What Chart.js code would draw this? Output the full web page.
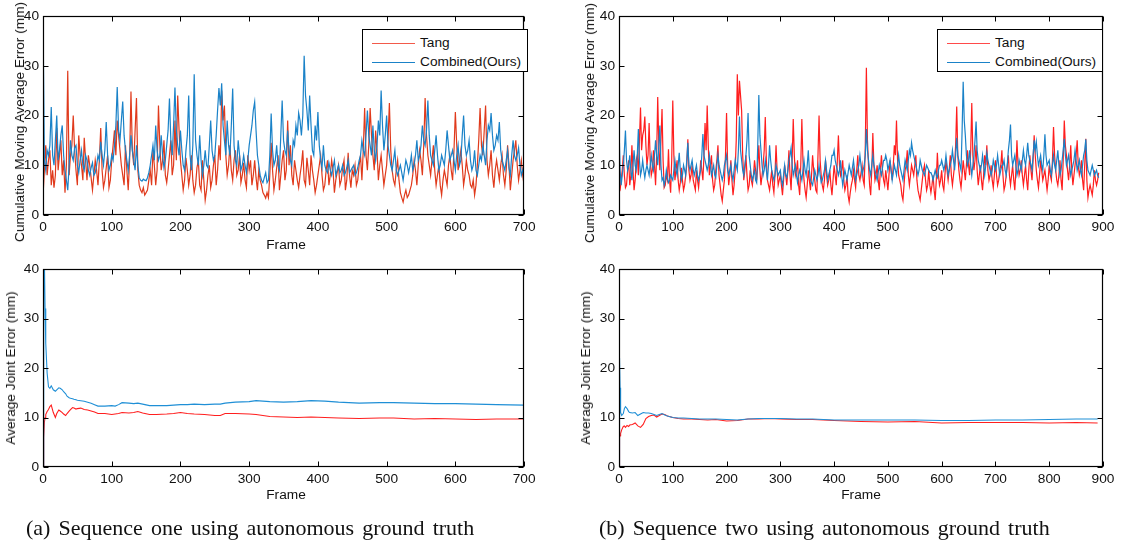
<!DOCTYPE html>
<html><head><meta charset="utf-8">
<script src="https://cdn.jsdelivr.net/npm/chart.js@4.4.1/dist/chart.umd.min.js"></script>
<style>
html,body{margin:0;padding:0;background:#fff;}
#root{position:relative;width:1126px;height:548px;overflow:hidden;font-family:"Liberation Sans",Arial,Helvetica,sans-serif;color:#111;}
canvas{position:absolute;}
.ytitle{position:absolute;white-space:nowrap;font-size:13.7px;line-height:16px;transform:translate(-50%,-50%) rotate(-90deg);}
.xtitle{position:absolute;white-space:nowrap;font-size:13.7px;line-height:16px;transform:translateX(-50%);}
.legend{position:absolute;box-sizing:border-box;border:1px solid #000;background:#fff;width:166px;height:43px;}
.legend .ln{position:absolute;left:9px;width:43px;height:0;border-top:1.3px solid;}
.legend .tx{position:absolute;left:57px;font-size:13.7px;line-height:16px;white-space:nowrap;}
.caption{position:absolute;white-space:nowrap;font-family:"Liberation Serif","Times New Roman",serif;font-size:22px;line-height:22px;word-spacing:2.6px;}
</style></head><body><div id="root"></div>
<script>
// ---------------- data ----------------
const seriesNames = ['Tang', 'Combined(Ours)'];
const yTicks = [0, 10, 20, 30, 40];
const xTicksSeq1 = [0, 100, 200, 300, 400, 500, 600, 700];
const xTicksSeq2 = [0, 100, 200, 300, 400, 500, 600, 700, 800, 900];
const frameStep = 2; // one sample every 2 frames in the moving-average plots

// Sequence one, cumulative moving average error (frames 0..700 step 2)
const seq1TangMA = [
 3.8,9,14,8,11,13,6,9,5.5,8,17.5,9,12,15,8,11,4.5,10,29,8,12,14,20,13,9,6,16,12,10,7,15.5,11,7,12,10,7.5,5,8,11,9,6,11,17.5,9,5.5,7,9.5,12,5.5,7,
 11,14,17,12,19,16,13,10,8,6,14,9,5,11,24.8,13,10,17,23.5,9,6,5,4.5,5.5,4,4.5,5,7,9,6,13,10,6,9,22,14,9,11,15,8,6.5,9,12,15,8,10,19,11,24,17,
 11,8,5,7,11.5,9,6,8,12,7,4.5,6,9.5,11,6,5,11,7,3,5,8,10,5.5,7,10,12,6,9,14,11,25,19,22,12,8,10,14,9,7,11,13,8,9,12,6.5,8,10.5,7,5.5,12,
 9,11,6,8,11,7.5,5,9,7,6,4.5,4,3.4,4.5,3.5,8,14.5,9,5,7,9.5,12,5,8,11,13,7,9,19,10,14,8,6,11,9,7,5.5,8,10,13,7,6,11.5,9,6,12,9,7,4.5,6,
 8,10,12,8,5,6,9,11,6,8,11,9,4.5,7,8.5,10,6,7,9.5,11,5,7,12.5,8,5.5,9,8,10,6,7,10,12,7,13,21.5,12,9,14,21.5,16,12,9,17,13,7,10,12,9,6,8,
 10,15,22.5,13,9,7,6,9,11,7,4.5,3.5,2.6,4,5,3.5,4,5,6,8,11,9,6,10,13,11,8,14,23.5,16,12,10,8,11,14,9,6,8,10,6,4,7,9,7.5,6,10,12,9,7,13,
 20.7,14,9,11,13,10,6,8,11,9,8,6,5.5,7,4,6,10,15,21.5,14,12,17,22,11,8,10,13,8,5.5,9,11,9,7,10,12,8,6,9,14,10,5,8,11,13,15,10,7,9,11,8,6
];
const seq1CombMA = [
 40,11,9,13,12,14,21.7,12,10,15,20,11,13,16,18,12,9,7,5,10,15,12,11,13.5,14,10,8.5,11,13,10,9,12,11,9,8,9.5,10.5,8,8.5,10,12,11,14.7,12,10,13,18.7,12,9,10,
 12,11,14,18,25.7,17,15,19,22.8,16,13,11,9,12,16,13,11,9,14,10,7.5,7,6.8,7.2,7,6.9,7.5,8.5,10,12,14,11,18,13,11,12,16,12,9.5,11,14,17,23.4,15,12,18,25.6,17,14,12,
 17,13,10,9,13,16,24,12,9,14,28.3,15,12,10,16,11,8,10,13,10,9.5,14,19,13,11,12,16,21,25.5,22,26.5,18,15,12,19,14,12,18,25.4,14,11,10,15,12,9,10,12,10,8.5,11,
 14,16,18,21,22.7,17,12,10,8,7,6.5,7.5,8.5,6.5,7,12,20.4,13,10,11,14,10,9,16,23,15,13,12,17,13,11,10,15,14,18,16,20.5,19,16,20,32,24,21,17,24,18,13,12,18,15,
 20.7,14,11,9.5,14,10,9,8.5,10.5,9,8,9.5,11,8,9,10,8.5,9,10,8,8.5,9.5,11,8.5,9,9.5,10,8,8.5,9.5,11,12,15,13,12,16,21,16,14,12,18,13,11,14,19,16,25,18,13,16,
 20,14,12,10,9,11,13,9,8,9,10,8.5,7,9,11,10,8.5,10,12,9,10,12,15,11,12,14,18,15,14,17,23,16,12,11,10,13,16,12,9,10,12,11,10,13,17,14,11,12,13,11,
 9,12,14,10,11,16,20,14,12,13,15,11,9,10,13,9,8,10,12,11,14,12,10,15,18,17,20.5,16,13,14,16,15,18.7,13,11,10,9,11,13,9.5,8,12,15,12,11,12,13.5,10,8,9,10
];

// Sequence two, cumulative moving average error (frames 0..892 step 2)
const seq2TangMA = [
 4.5,5,7,9,12,8,5.5,6,9,11,6,8,14,9,5,7,11,12,8,15,21.6,13,16,17,19.8,14,10,12,18.5,11,8,9,13,10,6,12,23.7,14,9,15,21.3,11,5.5,6,8,7,13.2,7,4.5,11,
 23,12,7,9,11,7,5,6.5,9.5,7,5,6,8,10,15.2,9,7,8,10,7,6,5,9,7,5.5,8,11,9,7,12,18.5,13,22,14,8,10,12,7,5,6,9,11,14,8,6,4,2.8,5,7,12,
 20.5,10,6,8,11,7,4,6,9,15,28.3,20,27,24,21,12,7,9,12,8,5,6,9,7,6,8,11,9,7,10,14,9,6,8,10,13,19.7,11,7,6,5,7,9,6,4.5,8,14,9,6,7,
 8,6,4,7,10,8,6,9,13,8,5,11,19.3,12,8,9,11,6,4,10,19.3,11,7,5,3.5,6,9,7,5,8,12,9,7,5,4.5,12,20,11,8,6,5,7,11,8,6,7,9,6,4,7,
 10,8,6,11,16,10,8,9,11,7,5,6,8,4,2.6,4.5,6,7,9,7,5.5,9,12,8,7,8.5,10,7,6,14,29.6,15,10,6,4,9,16.5,10,7,8,10,7,5,9,12,9,7,6,9,7,
 5,8,11,9,7,10,14,12,19,11,8,7,6,4,3,6,9,10,13,8,6,8,10,9,8,10,12,7,5,4,3,5,7,9,10,7,5,6,9,6,4.5,6,8,5,3,7,12.5,8,6,7,
 9,6,5,8,11,9,7,9,12,8,6,8,10,14,21.8,12,9,7,5.5,8,11,9,7,10,13,10,8,13,22.5,12,9,11,14,9,6,8,10,7,5,8,12,10,14,9,7,8,10,7,5.5,8,
 11,8,6,7,9,10,13,8,5,6,8,10,12,8,6,8,10,7,5,9,15,10,8,9,11,8,6,8,10,7,5,9,12,9,7,11,16,12,9,7,5.5,8,11,9,7,8,9,7,5,7,
 10,8,7,11,17.7,12,9,7,6,8,11,7,5,11,19,14,12,9,7,10,14,9,6,8,10,12,15,10,8,9,11,7,5,10,15.3,7,3.5,5,6,5,4,6,9,7,6,7,8.5
];
const seq2CombMA = [
 18.5,9,6,8,10,13,17,11,9,10,12,9,7,10,13,10,9,12,17.3,11,8,9,11,9,7.5,9,10,9,8,10,12,10,9,12,15,12,10,14,18,10,7,7.5,6,7,9,7.5,6.5,7,8,7.5,
 7,9,11,9,8,10,12.5,9,7,8,10,9,8,11,14.5,10,9,10,11,9,8,9,10,8,7,8,9,12,16.3,12,11,10,9,10,12,10,8,9,10,8,7.5,10,12,10,9,8,7,8,10,11,
 12,9,8,9,10,8,7,9,11,10,9,13,19.8,13,11,9,8,10,12,15,20.5,12,10,8,7,8,9,7,6.5,14,24.1,16,13,10,8,9,11,9,7,10,14,11,9,8,7,8,10,9,8,8.5,
 9,7,6,8,10,8,7.5,9,11,12,13.5,10,8,9,10,8,6.5,8,9,8,7,9,11,9,8,10,13,9,7,6.5,6,7.5,9,8,7,8,10,8,6.5,7,8,9,11,9,7,8,9,10,12,12,
 13,11,10,9,8,9,11,8,6,7.5,9,8,7,8.5,10,9,8,9.5,11,9,7,8,9,10,12,10,8,9,10,12,17.3,13,11,9,8,10,12,10,9,8,7,8.5,10,9,8,9.5,11,11,12,11,
 9,10,11,9,7,8.5,10,9,8,10,12,10,9,8,7,9,11,10,9,11,13,12,14.5,13,12,11,10,9,8,9,11,10,9,8.5,8,9,10,9.5,9,8.5,8.5,8,7,8,9,8,7.5,9,10,10,
 11,10,9,10,12,10,8,9,10,11,13,11,9,12,15.5,12,11,10,9,17,26.8,19,16,12,10,11,13,10,8,10,12,15,18.8,13,11,10,9,10,12,10,8,10,12.5,11,10,9,8,9,11,10,
 9,10,12,10,8,9,10,10,11,9,8,10,13,15,18.2,12,10,11,12,10,8,9,11,10,9,11,13,11,10,12,14.5,12,11,10,9,12,15,13,14.7,12,10,11,12,10,9,12,16.2,12,10,10.5,
 11,9,8,10,12,10,9,11,13,10,8,9,11,13,15.3,12,10,11,12,10,8,9,10,11,13,11,9,10,11,9,8,10,12,13,15.2,11,9,8.5,8,9,10,9,8,8.5,9,8,7.5
];

// Sequence one, average joint error (cumulative)
const seq1AvgFrames = [0,1,2,3,4,6,8,10,12,15,18,20,23,25,28,30,33,35,38,40,43,45,48,50,55,60,65,70,75,80,90,100,105,110,115,125,132,138,145,155,165,180,190,200,210,220,235,250,258,265,280,300,310,330,350,370,390,410,430,460,490,510,540,570,600,630,660,700];
const seq1TangAvg = [0,6,9,10,10.6,11.2,11.6,12.2,12.5,11,10,10.8,11.5,11.3,11,10.7,10.4,10.8,11.3,11.6,12,11.9,11.7,11.8,11.9,11.6,11.5,11.3,11.1,10.8,10.8,10.6,10.7,10.8,11,10.9,11,11.2,10.9,10.6,10.6,10.7,10.8,11,10.8,10.7,10.6,10.4,10.4,10.8,10.8,10.7,10.6,10.2,10.1,10.0,10.1,10.0,9.9,9.8,9.9,9.9,9.7,9.8,9.7,9.6,9.7,9.7];
const seq1CombAvg = [0,48,42,32,25,19,16.2,15.9,16.4,15.6,15.3,15.6,16,15.9,15.6,15.2,14.8,14.3,14,13.9,13.8,13.7,13.6,13.5,13.4,13.3,13.1,12.9,12.6,12.3,12.3,12.4,12.3,12.6,13,12.9,12.8,12.9,12.7,12.4,12.4,12.4,12.5,12.6,12.6,12.7,12.6,12.7,12.7,12.9,13.1,13.2,13.4,13.2,13.1,13.2,13.4,13.3,13.1,12.9,13.0,13.0,12.9,12.8,12.8,12.7,12.6,12.5];

// Sequence two, average joint error (cumulative)
const seq2AvgFrames = [0,1,2,3,5,8,10,12,15,18,20,25,30,35,40,45,50,55,60,65,70,75,80,85,90,100,110,120,135,150,165,180,200,220,240,260,280,300,330,360,400,450,500,550,600,650,700,750,800,850,890];
const seq2TangAvg = [0,6,6.3,6.8,7.5,8.2,8.3,8,8.4,8.2,8.5,8.6,8.9,8.3,8,8.6,9.8,10.2,10.4,10.5,10.1,10.4,10.7,10.6,10.3,10.0,9.8,9.7,9.7,9.6,9.5,9.6,9.3,9.4,9.7,9.7,9.8,9.7,9.6,9.6,9.4,9.2,9.1,9.2,8.9,9.0,9.0,9.0,8.9,9.0,8.9];
const seq2CombAvg = [0,22,16,11,10.4,10.8,11.8,12.2,11.8,11.2,11,10.9,11,10.4,10.7,11,10.9,10.9,10.8,10.6,10.4,10.6,10.8,10.5,10.3,10.0,9.9,9.9,9.8,9.7,9.7,9.7,9.6,9.5,9.7,9.8,9.8,9.8,9.7,9.7,9.5,9.5,9.5,9.5,9.4,9.4,9.5,9.5,9.6,9.7,9.7];

// ---------------- drawing ----------------
const FONT = '"Liberation Sans", Arial, Helvetica, sans-serif';
const root = document.getElementById('root');
const stepFrames = arr => arr.map((_, i) => i * frameStep);

const boxPlugin = {
  id: 'matlabBox',
  afterDatasetsDraw(chart) {
    const {ctx, chartArea: a, scales: {x, y}} = chart;
    const L = Math.round(a.left) + 0.5, R = Math.round(a.right) - 0.5;
    const T = Math.round(a.top) + 0.5, B = Math.round(a.bottom) - 0.5;
    ctx.save();
    ctx.strokeStyle = '#000';
    ctx.lineWidth = 1.2;
    ctx.strokeRect(L, T, R - L, B - T);
    ctx.beginPath();
    x.ticks.forEach(t => {
      const px = Math.round(x.getPixelForValue(t.value)) + 0.5;
      ctx.moveTo(px, B); ctx.lineTo(px, B - 5);
      ctx.moveTo(px, T); ctx.lineTo(px, T + 5);
    });
    y.ticks.forEach(t => {
      const py = Math.round(y.getPixelForValue(t.value)) + 0.5;
      ctx.moveTo(L, py); ctx.lineTo(L + 5, py);
      ctx.moveTo(R, py); ctx.lineTo(R - 5, py);
    });
    ctx.lineWidth = 1;
    ctx.stroke();
    ctx.restore();
  }
};

function addDiv(cls, text, style) {
  const d = document.createElement('div');
  d.className = cls; d.textContent = text;
  Object.assign(d.style, style);
  root.appendChild(d);
  return d;
}

function makeChart(p) {
  const c = document.createElement('canvas');
  c.width = p.w; c.height = p.h;
  c.style.left = p.left + 'px'; c.style.top = p.top + 'px';
  c.style.width = p.w + 'px'; c.style.height = p.h + 'px';
  root.appendChild(c);
  const datasets = p.series.map(s => ({
    label: s.label,
    data: s.x.map((f, i) => ({x: f, y: s.y[i]})),
    borderColor: s.color,
    borderWidth: s.width,
    pointRadius: 0,
    tension: 0,
    fill: false,
    order: s.order
  }));
  const tickFont = {family: FONT, size: 13.7};
  new Chart(c, {
    type: 'line',
    data: {datasets},
    options: {
      responsive: false, animation: false, devicePixelRatio: 1,
      layout: {padding: {left: 0, top: p.padTop, right: p.padRight, bottom: 0}},
      plugins: {legend: {display: false}, tooltip: {enabled: false}},
      scales: {
        x: {
          type: 'linear', min: 0, max: p.xTicks[p.xTicks.length - 1],
          afterFit(s) { s.height = p.xH; },
          afterBuildTicks(s) { s.ticks = p.xTicks.map(v => ({value: v})); },
          ticks: {padding: 4.5, color: '#111', font: tickFont, maxRotation: 0, autoSkip: false},
          grid: {display: false, drawTicks: false}, border: {display: false}
        },
        y: {
          type: 'linear', min: 0, max: 40,
          afterFit(s) { s.width = p.yW; },
          afterBuildTicks(s) { s.ticks = yTicks.map(v => ({value: v})); },
          ticks: {padding: 4, color: '#111', font: tickFont, autoSkip: false},
          grid: {display: false, drawTicks: false}, border: {display: false}
        }
      }
    },
    plugins: [boxPlugin]
  });
  addDiv('ytitle', p.yTitle, {left: p.yTitleX + 'px', top: p.yTitleY + 'px'});
  addDiv('xtitle', 'Frame', {left: p.xTitleX + 'px', top: p.xTitleY + 'px'});
  if (p.legendLeft !== undefined) {
    const lg = document.createElement('div');
    lg.className = 'legend';
    lg.style.left = p.legendLeft + 'px'; lg.style.top = '29px';
    p.series.forEach((s, i) => {
      const cy = i === 0 ? 13.2 : 32.2;
      const ln = document.createElement('div');
      ln.className = 'ln'; ln.style.top = (cy - 0.5) + 'px'; ln.style.borderTopColor = s.legendColor || s.color;
      const tx = document.createElement('div');
      tx.className = 'tx'; tx.style.top = (cy - 8) + 'px'; tx.textContent = s.label;
      lg.appendChild(ln); lg.appendChild(tx);
    });
    root.appendChild(lg);
  }
}

const RED1 = '#e03a1c', RED2 = '#ff1e1e', BLUE1 = '#1a82c8', BLUE2 = '#1f8fd6';

makeChart({
  left: 0, top: 0, w: 540, h: 250, padTop: 16, padRight: 12, yW: 43, xH: 35,
  xTicks: xTicksSeq1,
  series: [
    {label: seriesNames[0], x: stepFrames(seq1TangMA), y: seq1TangMA, color: RED1, legendColor: '#f25a4a', width: 1.2, order: 1},
    {label: seriesNames[1], x: stepFrames(seq1CombMA), y: seq1CombMA, color: BLUE1, width: 1.2, order: 0}
  ],
  yTitle: 'Cumulative Moving Average Error (mm)', yTitleX: 20, yTitleY: 122,
  xTitleX: 286, xTitleY: 237, legendLeft: 362
});
makeChart({
  left: 560, top: 0, w: 560, h: 250, padTop: 16, padRight: 17, yW: 59, xH: 35,
  xTicks: xTicksSeq2,
  series: [
    {label: seriesNames[0], x: stepFrames(seq2TangMA), y: seq2TangMA, color: RED2, legendColor: '#ff4a4a', width: 1.2, order: 1},
    {label: seriesNames[1], x: stepFrames(seq2CombMA), y: seq2CombMA, color: BLUE1, width: 1.2, order: 0}
  ],
  yTitle: 'Cumulative Moving Average Error (mm)', yTitleX: 590, yTitleY: 123,
  xTitleX: 861, xTitleY: 237, legendLeft: 937
});
makeChart({
  left: 0, top: 255, w: 540, h: 250, padTop: 14, padRight: 12, yW: 43, xH: 38,
  xTicks: xTicksSeq1,
  series: [
    {label: seriesNames[0], x: seq1AvgFrames, y: seq1TangAvg, color: RED2, width: 1.1, order: 1},
    {label: seriesNames[1], x: seq1AvgFrames, y: seq1CombAvg, color: BLUE2, width: 1.1, order: 0}
  ],
  yTitle: 'Average Joint Error (mm)', yTitleX: 11, yTitleY: 368,
  xTitleX: 286, xTitleY: 487
});
makeChart({
  left: 560, top: 255, w: 560, h: 250, padTop: 14, padRight: 17, yW: 59, xH: 38,
  xTicks: xTicksSeq2,
  series: [
    {label: seriesNames[0], x: seq2AvgFrames, y: seq2TangAvg, color: RED2, width: 1.1, order: 1},
    {label: seriesNames[1], x: seq2AvgFrames, y: seq2CombAvg, color: BLUE2, width: 1.1, order: 0}
  ],
  yTitle: 'Average Joint Error (mm)', yTitleX: 586, yTitleY: 368,
  xTitleX: 861, xTitleY: 487
});

addDiv('caption', '(a) Sequence one using autonomous ground truth', {left: '26px', top: '517px'});
addDiv('caption', '(b) Sequence two using autonomous ground truth', {left: '599px', top: '517px'});
</script>
</body></html>
